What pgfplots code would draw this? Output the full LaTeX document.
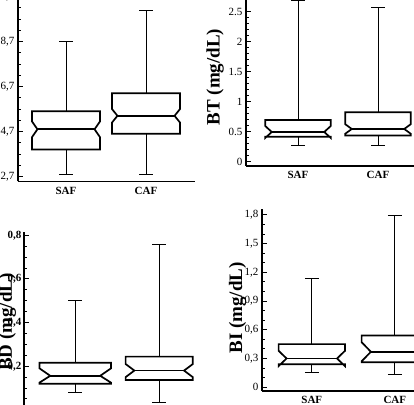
\documentclass[border=0pt]{standalone}
\usepackage{fontspec}
\setmainfont{Liberation Serif}
\usepackage{pgfplots}
\pgfplotsset{compat=1.18}
\usepgfplotslibrary{statistics}

\pgfkeys{
 /pgfplots/boxplot/notch low/.initial=0,
 /pgfplots/boxplot/notch high/.initial=0,
 /pgfplots/boxplot/notch indent/.initial=0.1,
}
\pgfplotsset{
 boxplot/draw direction=y,
 boxplot/draw/box/.code={%
   \pgfmathsetmacro\nindlo{\pgfkeysvalueof{/pgfplots/boxplot/notch indent}}%
   \pgfmathsetmacro\nindhi{1-\pgfkeysvalueof{/pgfplots/boxplot/notch indent}}%
   \draw[/pgfplots/boxplot/every box/.try]
     (boxplot box cs:\pgfplotsboxplotvalue{lower quartile},0)
     -- (boxplot box cs:\pgfkeysvalueof{/pgfplots/boxplot/notch low},0)
     -- (boxplot box cs:\pgfplotsboxplotvalue{median},\nindlo)
     -- (boxplot box cs:\pgfkeysvalueof{/pgfplots/boxplot/notch high},0)
     -- (boxplot box cs:\pgfplotsboxplotvalue{upper quartile},0)
     -- (boxplot box cs:\pgfplotsboxplotvalue{upper quartile},1)
     -- (boxplot box cs:\pgfkeysvalueof{/pgfplots/boxplot/notch high},1)
     -- (boxplot box cs:\pgfplotsboxplotvalue{median},\nindhi)
     -- (boxplot box cs:\pgfkeysvalueof{/pgfplots/boxplot/notch low},1)
     -- (boxplot box cs:\pgfplotsboxplotvalue{lower quartile},1)
     -- cycle;
 },
 boxplot/draw/median/.code={%
   \pgfmathsetmacro\nindlo{\pgfkeysvalueof{/pgfplots/boxplot/notch indent}}%
   \pgfmathsetmacro\nindhi{1-\pgfkeysvalueof{/pgfplots/boxplot/notch indent}}%
   \draw[/pgfplots/boxplot/every median/.try]
     (boxplot box cs:\pgfplotsboxplotvalue{median},\nindlo)
     -- (boxplot box cs:\pgfplotsboxplotvalue{median},\nindhi);
 },
 panel/.style={
   scale only axis,
   anchor=south west,
   axis x line*=bottom, axis y line*=left,
   axis line style={line width=1.6pt, black},
   xtick={1,2}, xticklabels={SAF,CAF},
   x tick label style={font=\fontsize{11}{12}\selectfont\bfseries, yshift=-2pt},
   y tick label style={font=\fontsize{11}{12}\selectfont},
   xtick style={draw=none},
   tick align=inside,
   major tick length=5pt, minor tick length=3pt,
   ytick style={line width=1pt, black},
   minor y tick style={line width=1pt, black},
   clip=false,
   boxplot/draw direction=y,
   boxplot/every box/.style={line width=1.7pt},
   boxplot/every median/.style={line width=1.6pt},
   boxplot/every whisker/.style={line width=0.9pt},
 },
 ylab/.style={ylabel style={at={(axis description cs:#1)}, anchor=center,
   font=\fontsize{19}{22}\selectfont\bfseries}},
}

\begin{document}
\begin{tikzpicture}
\useasboundingbox (0pt,0pt) rectangle (414pt,404pt);
\clip (0pt,0pt) rectangle (414pt,404pt);

% top-left panel
\begin{axis}[panel, at={(18pt,222.5pt)}, width=177pt, height=191.7pt,
  xmin=0.4, xmax=2.6125, ymin=2.48, ymax=11,
  ytick={2.7,4.7,6.7,8.7,10.7}, yticklabels={{2,7},{4,7},{6,7},{8,7},{10,7}},
  minor y tick num=3]
\addplot[black, boxplot prepared={draw position=1, lower whisker=2.8, lower quartile=3.9,
  median=4.8, upper quartile=5.6, upper whisker=8.7, box extend=0.85, whisker extend=0.17,
  notch low=4.45, notch high=5.15, notch indent=0.08}] coordinates {};
\addplot[black, boxplot prepared={draw position=2, lower whisker=2.8, lower quartile=4.6,
  median=5.4, upper quartile=6.4, upper whisker=10.1, box extend=0.85, whisker extend=0.17,
  notch low=5.1, notch high=5.7, notch indent=0.08}] coordinates {};
\end{axis}

% top-right panel
\begin{axis}[panel, at={(246pt,238pt)}, width=180pt, height=178pt,
  xmin=0.35, xmax=2.6, ymin=-0.067, ymax=2.9,
  ytick={0,0.5,1,1.5,2,2.5}, yticklabels={0,0.5,1,1.5,2,2.5},
  minor y tick num=4,
  ylabel={BT (mg/dL)}, ylab={-0.172,0.5}]
\addplot[black, boxplot prepared={draw position=1, lower whisker=0.27, lower quartile=0.42,
  median=0.5, upper quartile=0.7, upper whisker=2.7, box extend=0.82, whisker extend=0.17,
  notch low=0.40, notch high=0.60, notch indent=0.1}] coordinates {};
\addplot[black, boxplot prepared={draw position=2, lower whisker=0.27, lower quartile=0.44,
  median=0.55, upper quartile=0.83, upper whisker=2.57, box extend=0.82, whisker extend=0.17,
  notch low=0.47, notch high=0.63, notch indent=0.1}] coordinates {};
\end{axis}

% bottom-left panel
\begin{axis}[panel, at={(24pt,-8pt)}, width=185.6pt, height=179.9pt,
  xmin=0.39, xmax=2.6, ymin=-0.01, ymax=0.815,
  xticklabels={},
  ytick={0,0.2,0.4,0.6,0.8}, yticklabels={0,{0,2},{0,4},{0,6},{0,8}},
  y tick label style={font=\fontsize{11}{12}\selectfont\bfseries, xshift=1pt},
  minor y tick num=3,
  ylabel={BD (mg/dL)}, ylab={-0.09,0.5}]
\addplot[black, boxplot prepared={draw position=1, lower whisker=0.078, lower quartile=0.12,
  median=0.156, upper quartile=0.216, upper whisker=0.5, box extend=0.85, whisker extend=0.17,
  notch low=0.125, notch high=0.19, notch indent=0.15}] coordinates {};
\addplot[black, boxplot prepared={draw position=2, lower whisker=0.035, lower quartile=0.137,
  median=0.18, upper quartile=0.244, upper whisker=0.76, box extend=0.8, whisker extend=0.17,
  notch low=0.15, notch high=0.21, notch indent=0.13}] coordinates {};
\end{axis}

% bottom-right panel
\begin{axis}[panel, at={(262pt,13pt)}, width=182.6pt, height=181.8pt,
  xmin=0.4, xmax=2.6, ymin=-0.04, ymax=1.86,
  ytick={0,0.3,0.6,0.9,1.2,1.5,1.8}, yticklabels={0,{0,3},{0,6},{0,9},{1,2},{1,5},{1,8}},
  minor y tick num=2,
  ylabel={BI (mg/dL)}, ylab={-0.134,0.457}]
\addplot[black, boxplot prepared={draw position=1, lower whisker=0.15, lower quartile=0.24,
  median=0.3, upper quartile=0.45, upper whisker=1.14, box extend=0.8, whisker extend=0.17,
  notch low=0.22, notch high=0.38, notch indent=0.12}] coordinates {};
\addplot[black, boxplot prepared={draw position=2, lower whisker=0.13, lower quartile=0.26,
  median=0.37, upper quartile=0.54, upper whisker=1.79, box extend=0.8, whisker extend=0.17,
  notch low=0.27, notch high=0.47, notch indent=0.14}] coordinates {};
\end{axis}
\end{tikzpicture}
\end{document}
